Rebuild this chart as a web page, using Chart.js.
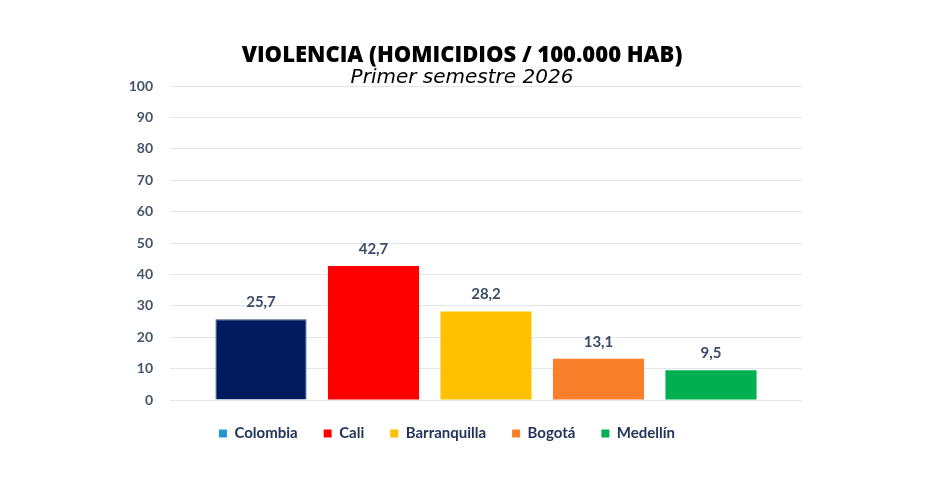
<!DOCTYPE html>
<html>
<head>
<meta charset="utf-8">
<script src="https://cdn.jsdelivr.net/npm/chart.js@4.4.1/dist/chart.umd.min.js"></script>
<style>
  html, body { margin: 0; padding: 0; background: #ffffff; }
  #wrap { position: relative; width: 950px; height: 482px; }
</style>
</head>
<body>
<div id="wrap"><canvas id="c" width="950" height="482"></canvas></div>
<script>
const titleText = 'VIOLENCIA (HOMICIDIOS / 100.000 HAB)';
const subtitleText = 'Primer semestre 2026';
const cities = ['Colombia', 'Cali', 'Barranquilla', 'Bogotá', 'Medellín'];
const values = [25.7, 42.7, 28.2, 13.1, 9.5];
const barColors = ['#001A5E', '#FF0000', '#FFC000', '#FA7F2A', '#00B050'];
const legendColors = ['#1F96D6', '#FF0000', '#FFC000', '#FA7F2A', '#00B050'];
const yTicks = [0, 10, 20, 30, 40, 50, 60, 70, 80, 90, 100];

const fmt = v => v.toFixed(1).replace('.', ',');

const datasets = cities.map((name, i) => ({
  label: name,
  data: [values[i]],
  backgroundColor: barColors[i],
  borderColor: i === 0 ? '#2B4585' : barColors[i],
  borderWidth: i === 0 ? 1 : 0,
  barPercentage: 0.81,
  categoryPercentage: 0.89
}));

const valueLabels = {
  id: 'valueLabels',
  afterDatasetsDraw(chart) {
    const ctx = chart.ctx;
    ctx.save();
    ctx.font = 'bold 15px Lato';
    ctx.fillStyle = '#3B4C68';
    ctx.textAlign = 'center';
    ctx.textBaseline = 'middle';
    chart.data.datasets.forEach((ds, i) => {
      const meta = chart.getDatasetMeta(i);
      meta.data.forEach((el, j) => {
        ctx.fillText(fmt(ds.data[j]), el.x, el.y - 17);
      });
    });
    ctx.restore();
  }
};

const legendShift = {
  id: 'legendShift',
  afterLayout(chart) {
    if (chart.legend) { chart.legend.left -= 15; chart.legend.right -= 15; }
  }
};

new Chart(document.getElementById('c'), {
  type: 'bar',
  data: { labels: [''], datasets },
  plugins: [valueLabels, legendShift],
  options: {
    responsive: false,
    animation: false,
    layout: { padding: { top: 45, right: 26, left: 0, bottom: 31 } },
    plugins: {
      title: {
        display: true,
        text: titleText,
        color: '#000000',
        font: { family: 'Open Sans', weight: 800, size: 22, lineHeight: 1 },
        padding: { top: 0, bottom: 0 }
      },
      subtitle: {
        display: true,
        text: subtitleText,
        color: '#000000',
        font: { family: 'DejaVu Sans', style: 'italic', weight: 200, size: 20, lineHeight: 0.8 },
        padding: { top: 3, bottom: 0 }
      },
      legend: {
        display: true,
        position: 'bottom',
        labels: {
          boxWidth: 8,
          boxHeight: 8,
          padding: 26,
          color: '#22345A',
          font: { family: 'Lato', weight: 'bold', size: 15 },
          generateLabels(chart) {
            const items = Chart.defaults.plugins.legend.labels.generateLabels(chart);
            items.forEach((it, i) => { it.fillStyle = legendColors[i]; it.strokeStyle = legendColors[i]; it.lineWidth = 0; });
            return items;
          }
        }
      },
      tooltip: { enabled: false }
    },
    scales: {
      x: { display: false },
      y: {
        min: 0, max: 100,
        afterFit(scale) { scale.width = 170; },
        afterBuildTicks(scale) { scale.ticks = yTicks.map(v => ({ value: v })); },
        ticks: {
          padding: 17,
          color: '#44546A',
          font: { family: 'Lato', weight: 'bold', size: 14 }
        },
        grid: { color: '#E2E6ED', lineWidth: 1, drawTicks: false },
        border: { display: false }
      },
      yRight: {
        position: 'right',
        display: true,
        afterFit(scale) { scale.width = 122; },
        ticks: { display: false },
        grid: { display: false },
        border: { display: false }
      }
    }
  }
});
</script>
</body>
</html>
